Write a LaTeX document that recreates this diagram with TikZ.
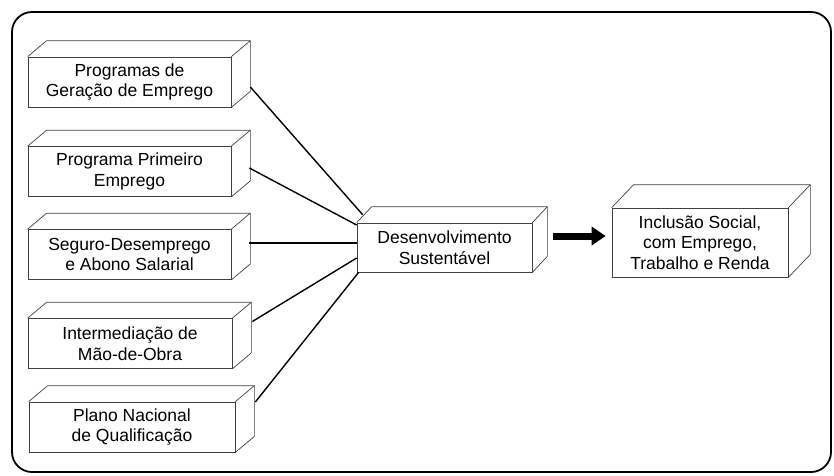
\documentclass[tikz,border=0pt]{standalone}
\usepackage{fontspec}
\setmainfont{Liberation Sans}
\usetikzlibrary{calc,arrows.meta}

\tikzset{
  frame/.style={line width=1.8pt, rounded corners=20pt},
  prism/.style={draw=black!75, line width=0.7pt, fill=white, inner sep=0pt,
    align=center, font=\fontsize{17.5}{20.5}\selectfont},
  face/.style={draw=black!75, line width=0.7pt, line join=round},
  link/.style={line width=1.4pt, black},
  bigarrow/.style={line width=7pt, -{Triangle[length=14pt,width=18pt]}},
}

\begin{document}
\begin{tikzpicture}[x=1pt, y=-1pt]
  \useasboundingbox (0,0) rectangle (834,475);

  % outer frame
  \draw[frame] (12,12) rectangle (831,472);

  % left column of programme boxes
  \node[prism, minimum width=203pt, minimum height=50pt] (b1) at (129.5,82)
    {Programas de\\Geração de Emprego};
  \node[prism, minimum width=203pt, minimum height=50pt] (b2) at (129.5,171.5)
    {Programa Primeiro\\Emprego};
  \node[prism, minimum width=203pt, minimum height=50pt] (b3) at (129.5,254.5)
    {Seguro-Desemprego\\e Abono Salarial};
  \node[prism, minimum width=204pt, minimum height=50pt] (b4) at (130,343.5)
    {Intermediação de\\Mão-de-Obra};
  \node[prism, minimum width=206pt, minimum height=50pt] (b5) at (132,427)
    {Plano Nacional\\de Qualificação};

  % central and result boxes
  \node[prism, minimum width=175pt, minimum height=49pt] (c) at (444.5,247.5)
    {Desenvolvimento\\Sustentável};
  \node[prism, minimum width=176pt, minimum height=69pt] (r) at (700,242.5)
    {Inclusão Social,\\com Emprego,\\Trabalho e Renda};

  % top and side faces of each prism
  \foreach \n/\dx/\dy in {b1/19/16, b2/19/16, b3/19/16, b4/19/16, b5/19/16, c/15/16, r/22/23} {
    \draw[face] (\n.north west) -- ++(\dx,-\dy) -- ($(\n.north east)+(\dx,-\dy)$)
      -- ($(\n.south east)+(\dx,-\dy)$) -- (\n.south east);
    \draw[face] (\n.north east) -- ++(\dx,-\dy);
  }

  % connectors into the central box
  \draw[link] ($(b1.east)+(19,5)$)     -- ($(c.north west)+(6,-8)$);
  \draw[link] ($(b2.east)+(18,-3.5)$)  -- ($(c.west)+(0,-22.5)$);
  \draw[link] ($(b3.east)+(18,-11.5)$) -- ($(c.west)+(0,-4.5)$);
  \draw[link] ($(b4.east)+(20,-22)$)   -- ($(c.west)+(0,10.5)$);
  \draw[link] ($(b5.east)+(20,-25)$)   -- ($(c.south west)+(2,0)$);

  % result arrow
  \draw[bigarrow] ($(c.east)+(21,-11.5)$) -- ($(r.west)+(-6,-6.5)$);
\end{tikzpicture}
\end{document}
